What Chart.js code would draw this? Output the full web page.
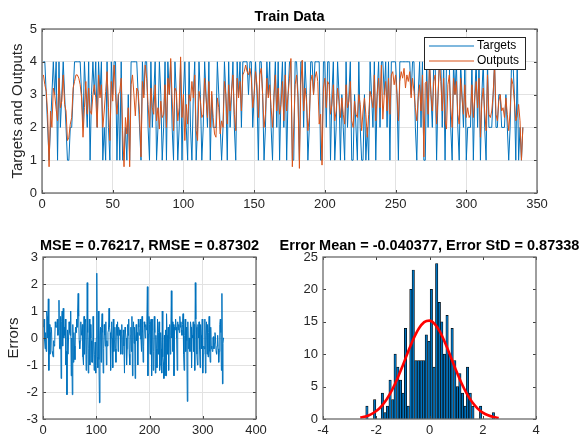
<!DOCTYPE html>
<html>
<head>
<meta charset="utf-8">
<script src="https://cdn.jsdelivr.net/npm/chart.js@4.4.1/dist/chart.umd.min.js"></script>
<style>
  html, body { margin: 0; padding: 0; background: #fff; }
  #wrap { position: relative; width: 586px; height: 438px; overflow: hidden; }
  canvas { position: absolute; left: 0; top: 0; }
</style>
</head>
<body>
<div id="wrap">
  <canvas id="trainChart" width="586" height="438"></canvas>
  <canvas id="errorChart" width="586" height="438"></canvas>
  <canvas id="histChart" width="586" height="438"></canvas>
</div>
<script>
// ---- data ----
const targets = [
  4,4,3,2,1,2,3,4,3,4,1,4,2,3,4,3,2,1,1,2,
  2,3,4,4,4,4,4,3,2,4,3,2,4,1,3,4,3,4,2,4,
  3,4,1,2,1,4,2,1,4,3,4,4,1,3,1,4,1,1,2,1,
  3,1,4,4,4,4,4,3,2,1,4,3,4,4,2,1,4,2,3,4,
  1,2,4,3,1,2,4,1,4,3,4,2,1,4,3,1,2,4,1,3,
  4,2,1,4,2,1,3,4,1,2,4,3,1,2,4,3,2,4,1,3,
  2,2,2,4,3,2,1,2,4,3,1,4,2,3,4,2,1,4,3,4,
  2,4,4,4,4,3,4,4,2,3,4,3,1,4,4,3,1,2,4,3,
  4,2,1,3,4,2,4,1,3,4,2,4,1,3,4,4,1,1,4,4,
  3,1,4,4,2,4,3,1,2,4,4,3,4,4,4,4,1,1,4,4,
  2,4,4,1,3,4,1,2,4,3,1,3,2,1,4,2,3,4,1,1,
  3,2,1,4,2,1,1,3,1,2,1,4,3,2,4,1,3,4,2,4,
  4,3,4,2,4,1,4,4,4,4,3,1,4,4,4,4,4,4,4,4,
  3,4,4,2,1,3,4,2,4,1,1,4,2,4,3,2,4,4,1,3,
  4,4,2,4,1,4,4,4,2,1,4,3,4,2,1,4,3,2,4,1,
  2,2,2,4,1,3,4,2,4,1,3,4,2,1,4,2,2,2,3,4,
  2,2,3,3,2,2,2,3,2,1,2,4,4,3,1,4,1,2,1,2
];

const outputs = [
  3.6,3.3,3.1,2.4,0.8,2.5,2.0,3.2,3.0,2.55,2.2,3.5,2.6,2.8,3.6,2.7,2.5,1.6,1.7,2.1,
  2.3,3.2,3.4,3.6,3.6,3.5,3.3,2.9,1.7,2.6,3.4,2.4,3.2,2.5,2.4,3.0,3.3,2.9,2.0,3.6,
  2.9,3.3,2.0,2.5,3.1,3.7,2.6,1.6,3.4,2.8,3.9,3.0,2.4,3.0,3.1,3.5,1.9,0.8,2.3,1.8,
  2.6,0.8,3.3,3.6,3.0,2.35,3.2,3.1,2.4,1.1,3.4,2.9,3.9,3.5,2.7,2.0,3.2,2.6,2.4,3.3,
  2.2,2.6,1.95,2.8,2.3,2.4,3.3,2.0,3.5,3.0,4.1,2.9,1.9,3.2,3.1,2.2,2.6,4.15,2.3,3.0,
  1.6,2.7,2.1,3.0,2.8,3.4,2.9,3.6,1.9,1.6,3.1,2.8,2.3,2.4,3.5,2.9,2.3,3.4,2.0,3.1,
  2.3,1.8,1.7,2.9,2.6,1.8,2.2,2.0,3.4,3.0,2.1,3.3,2.5,3.1,3.6,2.4,1.9,3.5,2.9,3.4,
  2.5,3.6,3.7,3.9,3.7,3.6,3.8,3.5,2.6,3.0,3.7,3.3,2.3,3.6,3.8,3.0,2.0,2.4,3.5,2.9,
  3.3,2.6,2.0,2.9,3.6,2.5,3.2,2.4,2.7,3.4,2.2,3.6,2.5,3.0,3.5,4.1,0.8,2.0,3.3,3.6,
  2.9,0.75,3.3,4.05,2.5,3.2,2.8,1.9,2.3,3.4,3.6,3.0,3.5,3.7,3.4,2.1,2.4,0.85,3.2,3.5,
  2.6,3.4,3.3,2.4,2.7,3.3,2.2,2.5,3.2,2.8,2.3,2.9,2.4,2.1,3.3,2.6,2.8,3.4,2.2,2.0,
  2.8,2.4,2.3,3.0,2.7,1.9,2.5,2.9,2.4,1.7,2.4,3.1,2.9,2.6,3.6,2.2,3.0,3.5,2.6,3.9,
  2.25,3.0,3.4,2.5,3.5,2.4,3.6,3.7,3.3,3.6,3.0,2.2,3.4,3.7,3.5,3.8,3.2,3.6,3.4,3.7,
  2.9,3.5,3.1,2.6,2.2,2.9,3.3,2.5,3.6,1.1,3.35,3.4,2.4,4.0,3.0,2.5,3.4,3.6,2.1,2.9,
  4.0,3.4,2.5,3.5,2.2,1.95,3.3,3.6,2.6,2.0,3.5,3.0,3.4,2.4,2.1,3.5,2.9,2.4,3.3,2.3,
  2.6,2.3,2.4,3.3,2.3,2.9,3.4,2.6,3.5,1.7,2.8,3.2,2.5,1.9,3.6,2.4,2.3,2.5,3.0,3.95,
  2.4,2.2,2.8,3.0,2.5,2.6,2.3,2.9,2.4,1.9,2.5,3.5,3.3,2.8,2.2,2.35,2.7,2.2,1.0,2.0
];

// histogram of the errors (50 bins)
const binCenters = [
  -2.35,-2.26,-2.16,-2.06,-1.97,-1.87,-1.77,-1.67,-1.58,-1.48,
  -1.38,-1.29,-1.19,-1.09,-0.99,-0.90,-0.80,-0.70,-0.61,-0.51,
  -0.41,-0.31,-0.22,-0.12,-0.02,0.07,0.17,0.27,0.37,0.46,
  0.56,0.66,0.75,0.85,0.95,1.05,1.14,1.24,1.34,1.43,
  1.53,1.63,1.72,1.82,1.92,2.02,2.11,2.21,2.31,2.40
];
const binCounts = [
  2,0,0,3,0,0,4,1,2,6,
  3,10,8,6,4,14,2,20,23,9,
  9,9,9,13,12,20,8,24,18,15,
  10,16,10,14,9,5,7,4,2,8,
  4,2,0,0,2,0,0,0,0,1
];

// fitted normal curve, read at 0.2 steps
const fitX = [-2.6,-2.4,-2.2,-2.0,-1.8,-1.6,-1.4,-1.2,-1.0,-0.8,-0.6,-0.4,-0.2,0,
              0.2,0.4,0.6,0.8,1.0,1.2,1.4,1.6,1.8,2.0,2.2,2.4,2.6];
const fitY = [0.21,0.39,0.71,1.23,2.0,3.08,4.52,6.29,8.31,10.41,12.38,13.96,14.95,15.18,
              14.64,13.39,11.62,9.57,7.48,5.55,3.90,2.61,1.65,0.99,0.57,0.31,0.16];

const trainTicksX = [0, 350, 50];
const trainTicksY = [0, 5, 1];
const errTicksX = [0, 400, 100];
const errTicksY = [-3, 3, 1];
const histTicksX = [-4, 4, 2];
const histTicksY = [0, 25, 5];

const titles = {
  train: "Train Data",
  err: "MSE = 0.76217, RMSE = 0.87302",
  hist: "Error Mean = -0.040377, Error StD = 0.87338"
};

//-----------------------------------------------
const W = 586, H = 438;
const FONT = '"Liberation Sans", Arial, Helvetica, sans-serif';
const BLUE = "#0072BD", ORANGE = "#D95319";
const TXT = "#262626";

// box, inward ticks, titles, labels, legend
const matlabAxes = {
  id: "matlabAxes",
  afterDraw(chart, args, o) {
    const ctx = chart.ctx, a = chart.chartArea;
    const sx = chart.scales.x, sy = chart.scales.y;
    ctx.save();
    ctx.strokeStyle = "#404040";
    ctx.lineWidth = 1;
    ctx.beginPath();
    sx.ticks.forEach(t => {
      const px = Math.round(sx.getPixelForValue(t.value)) + 0.5;
      ctx.moveTo(px, a.bottom); ctx.lineTo(px, a.bottom - 3);
      ctx.moveTo(px, a.top); ctx.lineTo(px, a.top + 3);
    });
    sy.ticks.forEach(t => {
      const py = Math.round(sy.getPixelForValue(t.value)) + 0.5;
      ctx.moveTo(a.left, py); ctx.lineTo(a.left + 3, py);
      ctx.moveTo(a.right, py); ctx.lineTo(a.right - 3, py);
    });
    ctx.stroke();
    ctx.strokeStyle = "#6a6a6a";
    ctx.lineWidth = 1.3;
    ctx.strokeRect(a.left, a.top, a.right - a.left, a.bottom - a.top);

    ctx.fillStyle = "#000";
    ctx.font = "bold 14.5px " + FONT;
    ctx.textAlign = "center";
    ctx.textBaseline = "middle";
    ctx.fillText(o.title, (a.left + a.right) / 2 + (o.titleShift || 0), o.titleY);

    if (o.ylabel) {
      ctx.save();
      ctx.translate(o.ylabelX, (a.top + a.bottom) / 2);
      ctx.rotate(-Math.PI / 2);
      ctx.fillStyle = TXT;
      ctx.font = "15px " + FONT;
      ctx.fillText(o.ylabel, 0, 0);
      ctx.restore();
    }

    if (o.legend) {
      const L = o.legend;
      ctx.fillStyle = "#fff";
      ctx.fillRect(L.x, L.y, L.w, L.h);
      ctx.strokeStyle = "#262626";
      ctx.lineWidth = 1;
      ctx.strokeRect(L.x + 0.5, L.y + 0.5, L.w, L.h);
      ctx.font = "12px " + FONT;
      ctx.textAlign = "left";
      L.items.forEach((it, i) => {
        const yy = L.y + 9 + i * 15;
        ctx.strokeStyle = it.color;
        ctx.lineWidth = 1.2;
        ctx.beginPath();
        ctx.moveTo(L.x + 5, yy); ctx.lineTo(L.x + 50, yy);
        ctx.stroke();
        ctx.fillStyle = "#000";
        ctx.fillText(it.text, L.x + 53, yy);
      });
    }
    ctx.restore();
  }
};

function scaleOpts(t, grid, pad) {
  return {
    type: "linear",
    min: t[0], max: t[1],
    offset: false,
    ticks: { stepSize: t[2], color: TXT, padding: pad, font: { family: FONT, size: 13 } },
    grid: { display: grid, color: "#e2e2e2", drawTicks: false, offset: false },
    border: { display: false }
  };
}

function makeChart(id, area, yw, xh, type, datasets, tx, ty, grid, pluginOpts) {
  const x = scaleOpts(tx, grid, 4);
  const y = scaleOpts(ty, grid, 5);
  x.afterFit = s => { s.height = xh; };
  y.afterFit = s => { s.width = yw; };
  return new Chart(document.getElementById(id), {
    type: type,
    data: { datasets: datasets },
    options: {
      responsive: false,
      animation: false,
      devicePixelRatio: 1,
      layout: { padding: { left: area.l - yw, top: area.t, right: W - area.r, bottom: H - area.b - xh } },
      scales: { x: x, y: y },
      plugins: { legend: { display: false }, title: { display: false }, tooltip: { enabled: false }, matlabAxes: pluginOpts },
      elements: { point: { radius: 0 }, line: { tension: 0 } }
    },
    plugins: [matlabAxes]
  });
}

// Train Data
makeChart("trainChart", { l: 42, t: 29, r: 537, b: 193 }, 30, 25, "line", [
  { label: "Targets", data: targets.map((v, i) => ({ x: i + 1, y: v })), borderColor: BLUE, borderWidth: 1, order: 2 },
  { label: "Outputs", data: outputs.map((v, i) => ({ x: i + 1, y: v })), borderColor: ORANGE, borderWidth: 1, order: 1 }
], trainTicksX, trainTicksY, true, {
  title: titles.train, titleY: 17, ylabel: "Targets and Outputs", ylabelX: 18,
  legend: { x: 424, y: 37, w: 101, h: 32, items: [{ text: "Targets", color: BLUE }, { text: "Outputs", color: ORANGE }] }
});

// Errors
const errors = targets.map((t, i) => t - outputs[i]);
makeChart("errorChart", { l: 43, t: 257, r: 256, b: 419 }, 30, 18, "line", [
  { label: "Errors", data: errors.map((v, i) => ({ x: i + 1, y: v })), borderColor: BLUE, borderWidth: 1 }
], errTicksX, errTicksY, true, {
  title: titles.err, titleY: 246, ylabel: "Errors", ylabelX: 14
});

// Histogram + fit
makeChart("histChart", { l: 323, t: 257, r: 536, b: 419 }, 30, 18, "bar", [
  { type: "line", data: fitX.map((v, i) => ({ x: v, y: fitY[i] })), borderColor: "#FF0000", borderWidth: 2.6,
    cubicInterpolationMode: "monotone", order: 1 },
  { type: "bar", data: binCenters.map((v, i) => ({ x: v, y: binCounts[i] })), backgroundColor: BLUE,
    borderColor: "#000", borderWidth: 0.7, barPercentage: 1, categoryPercentage: 1, order: 2 }
], histTicksX, histTicksY, false, {
  title: titles.hist, titleY: 246, titleShift: 0
});
</script>
</body>
</html>
